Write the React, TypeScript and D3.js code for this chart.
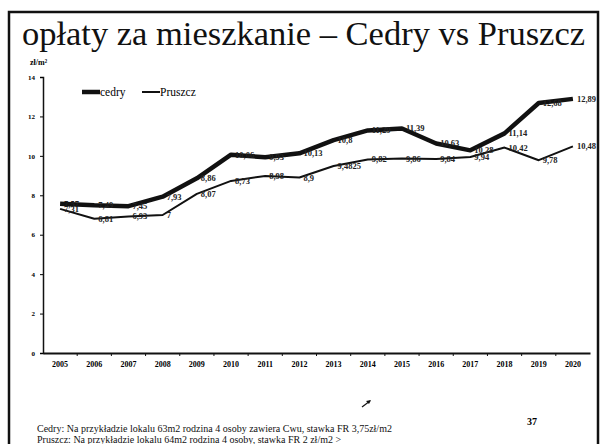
import React, { useEffect, useRef } from 'react'
import * as d3 from 'd3'

// rok / lata
const years = ['2005', '2006', '2007', '2008', '2009', '2010', '2011', '2012', '2013', '2014', '2015', '2016', '2017', '2018', '2019', '2020']
// opłaty zł/m2
const cedry = [7.57, 7.49, 7.45, 7.93, 8.86, 10.06, 9.93, 10.13, 10.8, 11.29, 11.39, 10.63, 10.28, 11.14, 12.68, 12.89]
const pruszcz = [7.31, 6.81, 6.93, 7, 8.07, 8.73, 8.98, 8.9, 9.4825, 9.82, 9.86, 9.84, 9.94, 10.42, 9.78, 10.48]
const yTicks = [0, 2, 4, 6, 8, 10, 12, 14]
const seriesNames = ['cedry', 'Pruszcz']
const title = 'opłaty za mieszkanie – Cedry vs Pruszcz'
const unit = 'zł/m²'
const notes = [
	'Cedry:  Na przykładzie lokalu 63m2 rodzina 4 osoby zawiera Cwu, stawka FR 3,75zł/m2',
	'Pruszcz: Na przykładzie lokalu 64m2 rodzina 4 osoby, stawka FR 2 zł/m2  >',
]
const pageNo = '37'

const FONT = 'Liberation Serif, Times New Roman, Times, DejaVu Serif, serif'

export default function App() {
	const svgRef = useRef<SVGSVGElement>(null)

	useEffect(() => {
		const svg = d3.select(svgRef.current)
		svg.selectAll('*').remove()

		const left = 43
		const right = 590
		const top = 77
		const bottom = 353

		const x = d3.scaleBand().domain(years).range([left, right])
		const y = d3.scaleLinear().domain([0, 14]).range([bottom, top])
		const cx = (d: string) => (x(d) as number) + x.bandwidth() / 2

		// ramka slajdu
		svg.append('rect')
			.attr('x', 9).attr('y', 12)
			.attr('width', 589).attr('height', 450)
			.attr('fill', 'none').attr('stroke', '#111').attr('stroke-width', 2.5)

		svg.append('text')
			.attr('x', 22).attr('y', 45)
			.attr('textLength', 563).attr('lengthAdjust', 'spacingAndGlyphs')
			.attr('font-family', FONT).attr('font-size', 33)
			.attr('fill', '#111')
			.text(title)

		svg.append('text')
			.attr('x', 30).attr('y', 65)
			.attr('font-family', FONT).attr('font-size', 8).attr('font-weight', 'bold')
			.text(unit)

		// osie
		const yAxis = svg.append('g')
			.attr('transform', `translate(${left},0)`)
			.call(d3.axisLeft(y).tickValues(yTicks).tickSize(3).tickPadding(5))
		yAxis.select('.domain').attr('stroke', '#111').attr('stroke-width', 1.5)
		yAxis.selectAll('text').attr('font-family', FONT).attr('font-size', 7).attr('font-weight', 'bold')

		const xAxis = svg.append('g')
			.attr('transform', `translate(0,${bottom})`)
			.call(d3.axisBottom(x).tickSize(0).tickPadding(8))
		xAxis.select('.domain').attr('stroke', '#111').attr('stroke-width', 2.2)
		xAxis.selectAll('text').attr('font-family', FONT).attr('font-size', 8).attr('font-weight', 'bold')
		xAxis.selectAll('.bound')
			.data(years.slice(1))
			.enter().append('line')
			.attr('x1', d => x(d) as number).attr('x2', d => x(d) as number)
			.attr('y1', 0).attr('y2', 3)
			.attr('stroke', '#111').attr('stroke-width', 1)

		// linie
		const line = d3.line<number>()
			.x((d, i) => cx(years[i]))
			.y(d => y(d))

		const drawSeries = (data: number[], width: number) => {
			svg.append('path')
				.datum(data)
				.attr('fill', 'none')
				.attr('stroke', '#111')
				.attr('stroke-width', width)
				.attr('stroke-linejoin', 'round')
				.attr('d', line)
			svg.append('g').selectAll('text')
				.data(data)
				.enter().append('text')
				.attr('x', (d, i) => cx(years[i]) + 4)
				.attr('y', d => y(d) + 3)
				.attr('font-family', FONT).attr('font-size', 8.5).attr('font-weight', 'bold')
				.attr('fill', '#222')
				.text(d => String(d).replace('.', ','))
		}
		drawSeries(pruszcz, 2)
		drawSeries(cedry, 4.5)

		// legenda
		const legend = svg.append('g').attr('transform', 'translate(82,92)')
		const legendItems = [{ name: seriesNames[0], w: 4.5, x: 0 }, { name: seriesNames[1], w: 2, x: 60 }]
		legendItems.forEach(it => {
			legend.append('line')
				.attr('x1', it.x).attr('x2', it.x + 18)
				.attr('y1', 0).attr('y2', 0)
				.attr('stroke', '#111').attr('stroke-width', it.w)
			legend.append('text')
				.attr('x', it.x + 18).attr('y', 4)
				.attr('font-family', FONT).attr('font-size', 11.5)
				.text(it.name)
		})

		// przypisy
		notes.forEach((n, i) => {
			svg.append('text')
				.attr('x', 37).attr('y', 432 + i * 11)
				.attr('font-family', FONT).attr('font-size', 10)
				.attr('fill', '#111')
				.text(n)
		})
		svg.append('text')
			.attr('x', 527).attr('y', 425)
			.attr('font-family', FONT).attr('font-size', 10).attr('font-weight', 'bold')
			.text(pageNo)

		svg.append('line')
			.attr('x1', 362).attr('y1', 407).attr('x2', 370).attr('y2', 401)
			.attr('stroke', '#111').attr('stroke-width', 1.2)
		svg.append('path')
			.attr('d', 'M371,400 L366,401 L369,404 Z')
			.attr('fill', '#111')
	}, [])

	return (
		<svg
			ref={svgRef}
			width={601}
			height={444}
			style={{ position: 'absolute', left: 0, top: 0, background: '#fff' }}
		/>
	)
}
